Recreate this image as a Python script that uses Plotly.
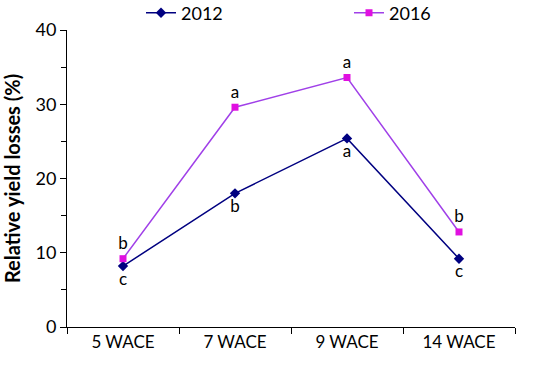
import plotly.graph_objects as go

categories = ["5 WACE", "7 WACE", "9 WACE", "14 WACE"]
y2012 = [8.2, 18.0, 25.4, 9.2]
y2016 = [9.2, 29.6, 33.6, 12.8]
labels2012 = ["c", "b", "a", "c"]
labels2016 = ["b", "a", "a", "b"]

FONT = "Lato, Open Sans, sans-serif"

fig = go.Figure()
fig.add_trace(go.Scatter(
    x=categories, y=y2012, name="2012", mode="lines+markers+text",
    line=dict(color="#000080", width=1.5),
    marker=dict(symbol="diamond", size=8, color="#000080"),
    text=labels2012, textposition="bottom center",
    textfont=dict(family=FONT, size=17, color="black"),
    legend="legend",
))
fig.add_trace(go.Scatter(
    x=categories, y=y2016, name="2016", mode="lines+markers+text",
    line=dict(color="#A040E8", width=1.5),
    marker=dict(symbol="square", size=7, color="#E010E0"),
    text=labels2016, textposition="top center",
    textfont=dict(family=FONT, size=17, color="black"),
    legend="legend2",
))

leg_common = dict(orientation="h", yanchor="middle", xanchor="left",
                  font=dict(size=18), bgcolor="rgba(0,0,0,0)", itemwidth=30)

fig.update_layout(
    width=550, height=368,
    margin=dict(l=67, r=35, t=30, b=41, autoexpand=False),
    plot_bgcolor="white", paper_bgcolor="white",
    font=dict(family=FONT, size=16, color="black"),
    showlegend=True,
    legend=dict(x=(141 - 67) / 448, y=1 + (30 - 13) / 297, **leg_common),
    legend2=dict(x=(349 - 67) / 448, y=1 + (30 - 13) / 297, **leg_common),
    xaxis=dict(
        type="category", range=[-0.5, 3.5], tickson="boundaries",
        showline=True, linecolor="black", linewidth=1,
        ticks="outside", ticklen=6, tickcolor="black",
        showgrid=False, tickfont=dict(size=17),
    ),
    yaxis=dict(
        range=[0, 40], dtick=10, tick0=0,
        showline=True, linecolor="black", linewidth=1,
        ticks="outside", ticklen=6, tickcolor="black",
        minor=dict(dtick=5, ticks="outside", ticklen=5, tickcolor="black", showgrid=False),
        showgrid=False, zeroline=False, tickfont=dict(size=18),
        title=dict(text="<b>Relative yield losses (%)</b>", font=dict(size=20), standoff=10),
    ),
)
fig.update_traces(cliponaxis=False)
fig.write_html("out.html", config={"displayModeBar": False},
               post_script="document.body.style.margin='0';")
